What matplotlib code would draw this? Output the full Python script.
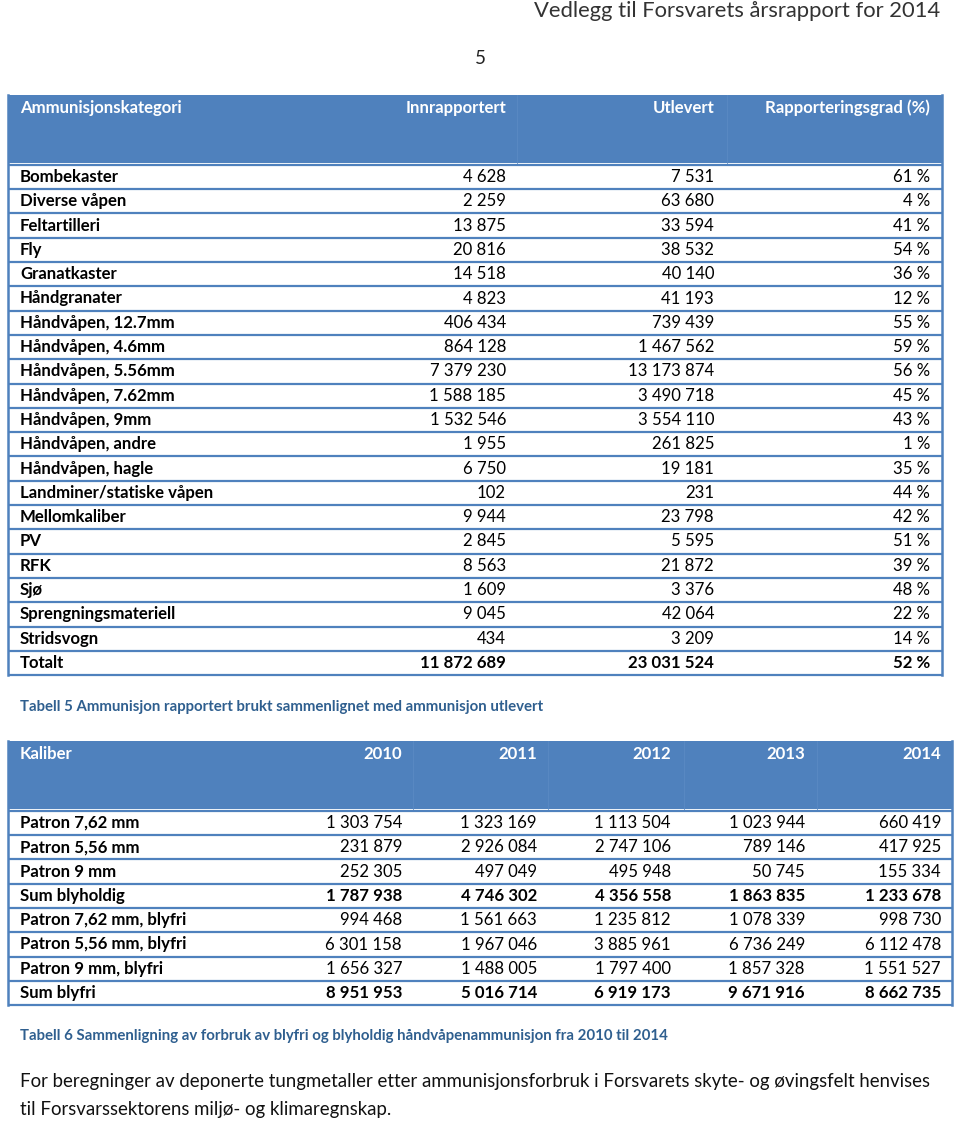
import matplotlib

matplotlib.use("Agg")
import matplotlib.pyplot as plt
from matplotlib.patches import Rectangle

plt.rcParams["font.family"] = ["Lato", "DejaVu Sans"]

BLUE = "#4F81BD"
CAPTION = "#2F5F8F"

PAGE_TITLE = "Vedlegg til Forsvarets årsrapport for 2014"
PAGE_NO = "5"

T1_HEADER = ["Ammunisjonskategori", "Innrapportert", "Utlevert", "Rapporteringsgrad (%)"]
T1_CATEGORIES = [
    "Bombekaster", "Diverse våpen", "Feltartilleri", "Fly", "Granatkaster",
    "Håndgranater", "Håndvåpen, 12.7mm", "Håndvåpen, 4.6mm", "Håndvåpen, 5.56mm",
    "Håndvåpen, 7.62mm", "Håndvåpen, 9mm", "Håndvåpen, andre", "Håndvåpen, hagle",
    "Landminer/statiske våpen", "Mellomkaliber", "PV", "RFK", "Sjø",
    "Sprengningsmateriell", "Stridsvogn", "Totalt",
]
T1_REPORTED = [
    "4 628", "2 259", "13 875", "20 816", "14 518", "4 823", "406 434", "864 128",
    "7 379 230", "1 588 185", "1 532 546", "1 955", "6 750", "102", "9 944",
    "2 845", "8 563", "1 609", "9 045", "434", "11 872 689",
]
T1_ISSUED = [
    "7 531", "63 680", "33 594", "38 532", "40 140", "41 193", "739 439",
    "1 467 562", "13 173 874", "3 490 718", "3 554 110", "261 825", "19 181",
    "231", "23 798", "5 595", "21 872", "3 376", "42 064", "3 209", "23 031 524",
]
T1_RATE = [
    "61 %", "4 %", "41 %", "54 %", "36 %", "12 %", "55 %", "59 %", "56 %", "45 %",
    "43 %", "1 %", "35 %", "44 %", "42 %", "51 %", "39 %", "48 %", "22 %", "14 %",
    "52 %",
]
T1_CAPTION = "Tabell 5 Ammunisjon rapportert brukt sammenlignet med ammunisjon utlevert"

T2_HEADER = ["Kaliber", "2010", "2011", "2012", "2013", "2014"]
T2_ROWS = [
    "Patron 7,62 mm", "Patron 5,56 mm", "Patron 9 mm", "Sum blyholdig",
    "Patron 7,62 mm, blyfri", "Patron 5,56 mm, blyfri", "Patron 9 mm, blyfri",
    "Sum blyfri",
]
T2_2010 = ["1 303 754", "231 879", "252 305", "1 787 938", "994 468", "6 301 158", "1 656 327", "8 951 953"]
T2_2011 = ["1 323 169", "2 926 084", "497 049", "4 746 302", "1 561 663", "1 967 046", "1 488 005", "5 016 714"]
T2_2012 = ["1 113 504", "2 747 106", "495 948", "4 356 558", "1 235 812", "3 885 961", "1 797 400", "6 919 173"]
T2_2013 = ["1 023 944", "789 146", "50 745", "1 863 835", "1 078 339", "6 736 249", "1 857 328", "9 671 916"]
T2_2014 = ["660 419", "417 925", "155 334", "1 233 678", "998 730", "6 112 478", "1 551 527", "8 662 735"]
T2_BOLD_ROWS = ["Sum blyholdig", "Sum blyfri"]
T2_CAPTION = "Tabell 6 Sammenligning av forbruk av blyfri og blyholdig håndvåpenammunisjon fra 2010 til 2014"

FOOTER = [
    "For beregninger av deponerte tungmetaller etter ammunisjonsforbruk i Forsvarets skyte- og øvingsfelt henvises",
    "til Forsvarssektorens miljø- og klimaregnskap.",
]

FS = 12.1
ROW_H = 24.3


def draw_table(ax, x0, x1, head_top, head_bot, first_y, header, columns, col_right,
               sep_x, bold_rows):
    # header band
    ax.add_patch(Rectangle((x0, head_top), x1 - x0, head_bot - head_top,
                           facecolor=BLUE, edgecolor="none"))
    for sx in sep_x:
        ax.plot([sx, sx], [head_top, head_bot], color="#5A8AC4", lw=0.6)
    ax.text(20, head_top + 13, header[0], color="white", fontsize=FS,
            fontweight="bold", ha="left", va="center")
    for txt, xr in zip(header[1:], col_right):
        ax.text(xr, head_top + 13, txt, color="white", fontsize=FS,
                fontweight="bold", ha="right", va="center")

    n = len(columns[0])
    top = first_y - ROW_H / 2
    bot = first_y + (n - 1) * ROW_H + ROW_H / 2
    for i in range(n + 1):
        y = top + i * ROW_H
        ax.plot([x0, x1], [y, y], color=BLUE, lw=1.6, solid_capstyle="butt")
    ax.plot([x0, x0], [head_top, bot], color=BLUE, lw=1.8)
    ax.plot([x1, x1], [head_top, bot], color=BLUE, lw=1.8)

    for i in range(n):
        y = first_y + i * ROW_H
        label = columns[0][i]
        ax.text(20, y, label, fontsize=FS, fontweight="bold", ha="left", va="center")
        w = "bold" if label in bold_rows else "normal"
        for col, xr in zip(columns[1:], col_right):
            ax.text(xr, y, col[i], fontsize=FS, fontweight=w, ha="right", va="center")


fig = plt.figure(figsize=(9.6, 11.23), dpi=100)
ax = fig.add_axes([0, 0, 1, 1])
ax.set_xlim(0, 960)
ax.set_ylim(1123, 0)
ax.axis("off")

ax.text(940, 11, PAGE_TITLE, fontsize=15.8, color="#333333", ha="right", va="center")
ax.text(480, 58, PAGE_NO, fontsize=13.5, color="#222222", ha="center", va="center")

draw_table(ax, 8, 942, 95, 163, 177, T1_HEADER,
           [T1_CATEGORIES, T1_REPORTED, T1_ISSUED, T1_RATE],
           [506, 714, 930], [517, 727], ["Totalt"])
ax.text(20, 707, T1_CAPTION, fontsize=10.8, fontweight="bold", color=CAPTION,
        ha="left", va="center")

draw_table(ax, 8, 952, 741, 809, 823, T2_HEADER,
           [T2_ROWS, T2_2010, T2_2011, T2_2012, T2_2013, T2_2014],
           [402, 537, 671, 805, 941], [413, 548, 684, 817], T2_BOLD_ROWS)
ax.text(20, 1036, T2_CAPTION, fontsize=10.8, fontweight="bold", color=CAPTION,
        ha="left", va="center")

ax.text(20, 1082, FOOTER[0], fontsize=13.4, color="#111111", ha="left", va="center")
ax.text(20, 1110, FOOTER[1], fontsize=13.4, color="#111111", ha="left", va="center")

fig.savefig("out.png", dpi=100)
